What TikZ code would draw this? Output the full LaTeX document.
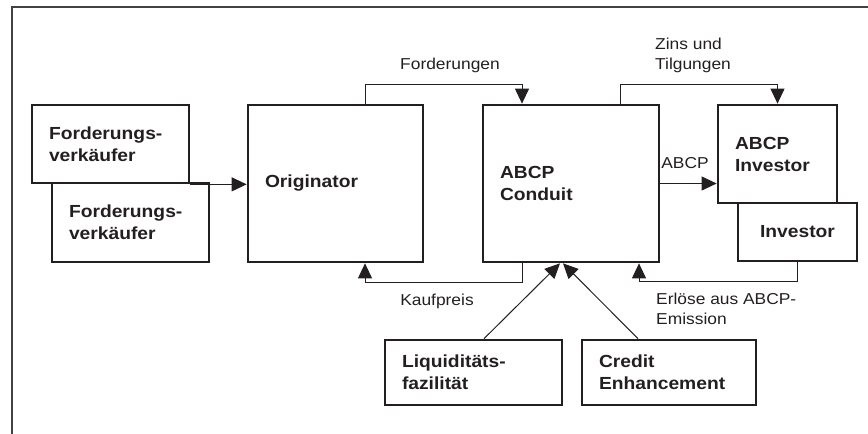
\documentclass[tikz,border=0pt]{standalone}
\usepackage{fontspec}
\setmainfont{Liberation Sans}[FakeStretch=1.1]
\usetikzlibrary{arrows.meta}
\definecolor{ink}{RGB}{35,31,32}
\begin{document}
\begin{tikzpicture}[x=1pt,y=-1pt,
  box/.style={draw=ink, line width=2.7pt, rectangle, inner xsep=17pt, inner ysep=0pt,
    align=left, font=\fontsize{17.5}{22}\selectfont\bfseries, text=ink},
  conn/.style={draw=ink, line width=1pt},
  arr/.style={conn, -{Triangle[length=15pt,width=14pt]}},
  lbl/.style={font=\fontsize{15.8}{20}\selectfont, text=ink, inner sep=0pt, align=left}]
\useasboundingbox (0,0) rectangle (868,434);
\draw[ink!85, line width=1.7pt] (12,434) -- (12,7) -- (868,7);

\node[box, minimum width=157pt, minimum height=79pt, text width=123pt] (fv2) at (130.5,222.5) {Forderungs-\\verkäufer};
\node[box, minimum width=157pt, minimum height=78pt, text width=123pt] (fv1) at (110.5,144) {Forderungs-\\verkäufer};
\node[box, minimum width=175pt, minimum height=157pt, text width=141pt] (orig) at (335.5,183.5) {Originator};
\node[box, minimum width=176pt, minimum height=157pt, text width=142pt] (cond) at (571,183.5) {ABCP\\Conduit};
\node[box, minimum width=119pt, minimum height=98pt, text width=85pt] (abcpinv) at (777.5,154) {ABCP\\Investor};
\node[box, minimum width=119pt, minimum height=58pt, text width=85pt, align=center] (inv) at (797.5,232) {Investor};
\node[box, minimum width=177pt, minimum height=65pt, text width=143pt] (liq) at (473.5,372.5) {Liquiditäts-\\fazilität};
\node[box, minimum width=174pt, minimum height=65pt, text width=140pt] (cred) at (669,372.5) {Credit\\Enhancement};

\draw[arr] (fv1.south east) -- (orig.west |- fv1.south east);
\draw[arr] ([xshift=29.5pt]orig.north) -- ++(0,-19) -| ([xshift=-49pt]cond.north);
\draw[arr] ([xshift=49pt]cond.north) -- ++(0,-19) -| (abcpinv.north);
\draw[arr] (cond.east) -- (cond.east -| abcpinv.west);
\draw[arr] ([xshift=-49pt]cond.south) -- ++(0,19) -| ([xshift=29.5pt]orig.south);
\draw[arr] (inv.south) -- ++(0,19) -| ([xshift=68pt]cond.south);
\draw[arr] ([xshift=10.5pt]liq.north) -- ([xshift=-11pt]cond.south);
\draw[arr] ([xshift=-31pt]cred.north) -- ([xshift=-8pt]cond.south);

\node[lbl] (lforder) at (450,65) {Forderungen};
\node[lbl, anchor=west] (lzins) at (655,55) {Zins und\\Tilgungen};
\node[lbl] (labcp) at (685,163) {ABCP};
\node[lbl] (lkauf) at (437,301) {Kaufpreis};
\node[lbl, anchor=west] (lerl) at (656,308.5) {Erlöse aus ABCP-\\Emission};
\end{tikzpicture}
\end{document}
